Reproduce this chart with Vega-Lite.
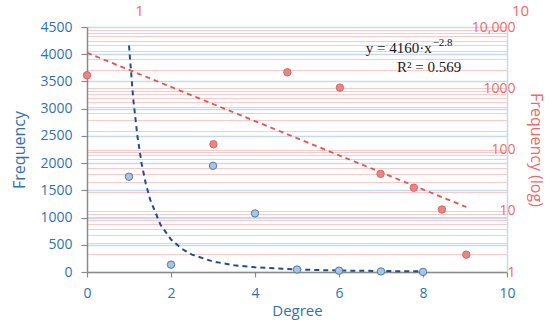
{
  "$schema": "https://vega.github.io/schema/vega-lite/v6.json",
  "width": 420,
  "height": 245,
  "autosize": {"type": "none"},
  "padding": {"left": 87, "top": 27, "right": 43, "bottom": 57},
  "background": "white",
  "config": {
    "view": {"stroke": null},
    "font": "Open Sans",
    "axisBottom": {
      "grid": false, "domainColor": "#8a8a8a", "domainWidth": 1.5,
      "tickColor": "#8a8a8a", "tickSize": 5, "tickWidth": 1.2,
      "labelColor": "#3271ad", "labelFontSize": 14, "labelPadding": 9,
      "labelFlush": false, "labelOverlap": false,
      "titleColor": "#3271ad", "titleFontSize": 15, "titleFontWeight": "normal", "titlePadding": 3
    },
    "axisLeft": {
      "grid": true, "gridColor": "#c7dbee", "gridWidth": 1.3,
      "domainColor": "#8a8a8a", "domainWidth": 1.5,
      "tickColor": "#8a8a8a", "tickSize": 6, "tickWidth": 1.2,
      "labelColor": "#3271ad", "labelFontSize": 14, "labelPadding": 9,
      "labelFlush": false, "labelOverlap": false,
      "titleColor": "#3271ad", "titleFontSize": 16, "titleFontWeight": "normal", "titlePadding": 12
    }
  },
  "datasets": {
    "pts": [
      {"degree": 1, "freq": 1750, "freqLog": 1630},
      {"degree": 2, "freq": 135, "freqLog": 122},
      {"degree": 3, "freq": 1950, "freqLog": 1820},
      {"degree": 4, "freq": 1076, "freqLog": 1025},
      {"degree": 5, "freq": 45, "freqLog": 40},
      {"degree": 6, "freq": 24, "freqLog": 23.8},
      {"degree": 7, "freq": 10, "freqLog": 10.5},
      {"degree": 8, "freq": 2, "freqLog": 1.92}
    ],
    "blueFit": [
      {"degree": 1, "freq": 4160},
      {"degree": 1.1, "freq": 3186},
      {"degree": 1.2, "freq": 2497},
      {"degree": 1.3, "freq": 1995},
      {"degree": 1.4, "freq": 1622},
      {"degree": 1.5, "freq": 1337},
      {"degree": 1.75, "freq": 868},
      {"degree": 2, "freq": 597},
      {"degree": 2.25, "freq": 430},
      {"degree": 2.5, "freq": 320},
      {"degree": 3, "freq": 192},
      {"degree": 3.5, "freq": 125},
      {"degree": 4, "freq": 86},
      {"degree": 5, "freq": 46},
      {"degree": 6, "freq": 27.5},
      {"degree": 7, "freq": 17.9},
      {"degree": 8, "freq": 12.3}
    ],
    "redFit": [
      {"degree": 1, "freqLog": 3800},
      {"degree": 8, "freqLog": 11.5}
    ],
    "notes": [
      {"degree": 8.21, "freq": 4029, "label": "y = 4160·x", "part": "eq"},
      {"degree": 8.23, "freq": 4150, "label": "−2.8", "part": "sup"},
      {"degree": 8.91, "freq": 3668, "label": "R² = 0.569", "part": "r2"}
    ]
  },
  "layer": [
    {
      "encoding": {
        "x": {
          "field": "degree", "type": "quantitative",
          "scale": {"domain": [0, 10], "nice": false},
          "axis": {"orient": "bottom", "title": "Degree", "values": [0, 2, 4, 6, 8, 10], "format": "d"}
        },
        "y": {
          "field": "freq", "type": "quantitative",
          "scale": {"domain": [0, 4500], "nice": false},
          "axis": {"orient": "left", "title": "Frequency", "values": [0, 500, 1000, 1500, 2000, 2500, 3000, 3500, 4000, 4500], "format": "d"}
        }
      },
      "layer": [
        {
          "data": {"name": "blueFit"},
          "mark": {"type": "line", "color": "#1f4e8c", "strokeWidth": 2, "strokeDash": [5, 4]}
        },
        {
          "data": {"name": "pts"},
          "mark": {"type": "point", "filled": true, "size": 55, "fill": "#a9c5e4", "stroke": "#4f7cab", "strokeWidth": 1, "opacity": 1}
        },
        {
          "data": {"name": "notes"},
          "transform": [{"filter": "datum.part == 'eq'"}],
          "mark": {"type": "text", "align": "right", "baseline": "alphabetic", "font": "Liberation Serif", "fontSize": 15, "color": "#1a1a1a"},
          "encoding": {"text": {"field": "label"}}
        },
        {
          "data": {"name": "notes"},
          "transform": [{"filter": "datum.part == 'sup'"}],
          "mark": {"type": "text", "align": "left", "baseline": "alphabetic", "font": "Liberation Serif", "fontSize": 11, "color": "#1a1a1a"},
          "encoding": {"text": {"field": "label"}}
        },
        {
          "data": {"name": "notes"},
          "transform": [{"filter": "datum.part == 'r2'"}],
          "mark": {"type": "text", "align": "right", "baseline": "alphabetic", "font": "Liberation Serif", "fontSize": 15, "color": "#1a1a1a"},
          "encoding": {"text": {"field": "label"}}
        }
      ]
    },
    {
      "encoding": {
        "x": {
          "field": "degree", "type": "quantitative",
          "scale": {"type": "log", "domain": [1, 10], "nice": false},
          "axis": {
            "orient": "top", "title": null, "values": [1, 10],
            "grid": false, "domain": false, "ticks": false,
            "labelColor": "#ee6a6a", "labelFontSize": 15, "labelPadding": 9,
            "labelFlush": false, "labelOverlap": false,
            "labelOffset": {"condition": {"test": "datum.value < 2", "value": 52}, "value": 13}
          }
        },
        "y": {
          "field": "freqLog", "type": "quantitative",
          "scale": {"type": "log", "domain": [1, 10000], "nice": false},
          "axis": {
            "orient": "right", "title": "Frequency (log)",
            "values": [1, 2, 3, 4, 5, 6, 7, 8, 9, 10, 20, 30, 40, 50, 60, 70, 80, 90, 100, 200, 300, 400, 500, 600, 700, 800, 900, 1000, 2000, 3000, 4000, 5000, 6000, 7000, 8000, 9000, 10000],
            "labelExpr": "datum.value > 9999 ? '10,000' : (datum.value == 1 || datum.value == 10 || datum.value == 100 || datum.value == 1000) ? format(datum.value, 'd') : ''",
            "grid": true, "gridColor": "#f9caca", "gridWidth": 1,
            "domainColor": "#c5d9ec", "domainWidth": 1.5, "ticks": false,
            "labelAlign": "right", "labelPadding": 8,
            "labelColor": "#ee6a6a", "labelFontSize": 14,
            "labelFlush": false, "labelOverlap": false, "labelBound": false,
            "titleColor": "#ee6a6a", "titleFontSize": 16, "titleFontWeight": "normal", "titlePadding": 12
          }
        }
      },
      "layer": [
        {
          "data": {"name": "redFit"},
          "mark": {"type": "line", "color": "#e5534f", "strokeWidth": 1.8, "strokeDash": [5, 4]}
        },
        {
          "data": {"name": "pts"},
          "mark": {"type": "point", "filled": true, "size": 55, "fill": "#e98585", "stroke": "#d96464", "strokeWidth": 1, "opacity": 1}
        }
      ]
    }
  ],
  "resolve": {
    "scale": {"x": "independent", "y": "independent"},
    "axis": {"x": "independent", "y": "independent"}
  }
}
